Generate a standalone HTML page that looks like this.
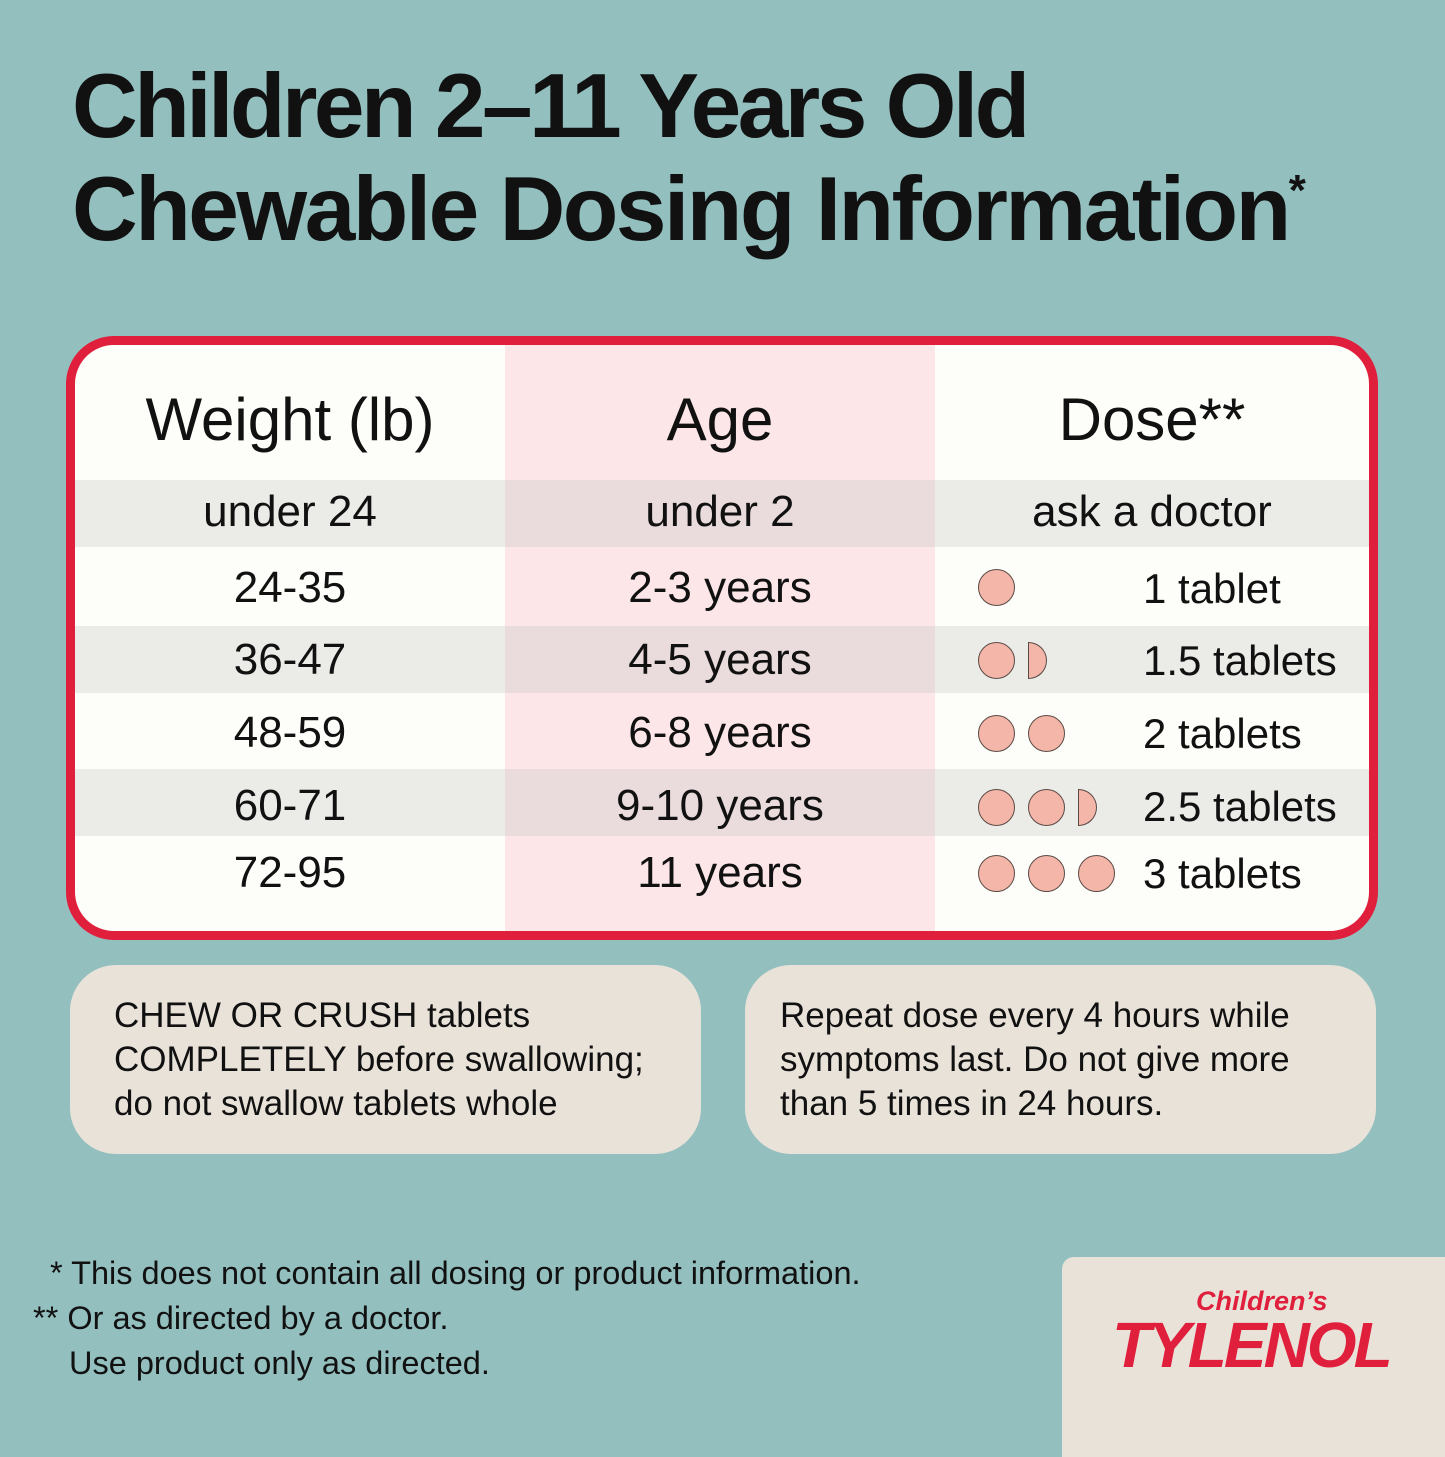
<!DOCTYPE html>
<html><head><meta charset="utf-8"><style>
*{margin:0;padding:0;box-sizing:border-box}
body{width:1445px;height:1445px;background:#93bfbf;position:relative;overflow:hidden;font-family:"Liberation Sans",sans-serif;color:#111}
.a{position:absolute;white-space:nowrap}
.t{font-size:91px;font-weight:bold;letter-spacing:-3.5px;left:72px}
.tbl{left:66px;top:336px;width:1312px;height:604px;border:9px solid #e01f3d;border-radius:48px;background:#fdfdf9;overflow:hidden}
.c{position:absolute;text-align:center;font-size:44px}
.h{font-size:60px}
.d{font-size:42px}
.box{background:#e9e2d9;border-radius:46px;top:965px;height:189px;width:631px;font-size:35px;line-height:44px;padding:29px 0 0 44px}
.f{font-size:32.5px}
.cir{position:absolute;width:37px;height:37px;border-radius:50%;background:#f4b6a8;border:1.5px solid #5a4a44}
.half{position:absolute;width:19px;height:37px;border-radius:0 19px 19px 0;background:#f4b6a8;border:1.5px solid #5a4a44}
</style></head><body>
<div class="a t" style="top:55px">Children 2–11 Years Old</div>
<div class="a t" style="top:158px;letter-spacing:-2.5px">Chewable Dosing Information<sup style="font-size:44px;vertical-align:top;position:relative;top:8px">*</sup></div>

<div class="a tbl">
 <div class="a" style="left:430px;top:0;width:430px;height:600px;background:#fce6e8"></div>
 <div class="a" style="left:0;top:135px;width:1300px;height:67px;background:rgba(200,200,200,.35)"></div>
 <div class="a" style="left:0;top:281px;width:1300px;height:67px;background:rgba(200,200,200,.35)"></div>
 <div class="a" style="left:0;top:424px;width:1300px;height:67px;background:rgba(200,200,200,.35)"></div>
 <div class="c h" style="left:0;width:430px;top:40px">Weight (lb)</div>
 <div class="c h" style="left:430px;width:430px;top:40px">Age</div>
 <div class="c h" style="left:860px;width:434px;top:40px">Dose**</div>
 <div class="c" style="left:0;width:430px;top:142px">under 24</div>
 <div class="c" style="left:430px;width:430px;top:142px">under 2</div>
 <div class="c" style="left:860px;width:434px;top:142px">ask a doctor</div>
 <div class="c" style="left:0;width:430px;top:218px">24-35</div>
 <div class="c" style="left:430px;width:430px;top:218px">2-3 years</div>
 <div class="c" style="left:0;width:430px;top:290px">36-47</div>
 <div class="c" style="left:430px;width:430px;top:290px">4-5 years</div>
 <div class="c" style="left:0;width:430px;top:363px">48-59</div>
 <div class="c" style="left:430px;width:430px;top:363px">6-8 years</div>
 <div class="c" style="left:0;width:430px;top:436px">60-71</div>
 <div class="c" style="left:430px;width:430px;top:436px">9-10 years</div>
 <div class="c" style="left:0;width:430px;top:503px">72-95</div>
 <div class="c" style="left:430px;width:430px;top:503px">11 years</div>
 <div class="c d" style="left:1068px;top:220px;text-align:left">1 tablet</div>
 <div class="c d" style="left:1068px;top:292px;text-align:left">1.5 tablets</div>
 <div class="c d" style="left:1068px;top:365px;text-align:left">2 tablets</div>
 <div class="c d" style="left:1068px;top:438px;text-align:left">2.5 tablets</div>
 <div class="c d" style="left:1068px;top:505px;text-align:left">3 tablets</div>
 <div class="cir" style="left:903px;top:224px"></div>
 <div class="cir" style="left:903px;top:297px"></div><div class="half" style="left:953px;top:297px"></div>
 <div class="cir" style="left:903px;top:370px"></div><div class="cir" style="left:953px;top:370px"></div>
 <div class="cir" style="left:903px;top:444px"></div><div class="cir" style="left:953px;top:444px"></div><div class="half" style="left:1003px;top:444px"></div>
 <div class="cir" style="left:903px;top:510px"></div><div class="cir" style="left:953px;top:510px"></div><div class="cir" style="left:1003px;top:510px"></div>
</div>

<div class="a box" style="left:70px">CHEW OR CRUSH tablets<br>COMPLETELY before swallowing;<br>do not swallow tablets whole</div>
<div class="a box" style="left:745px;padding-left:35px">Repeat dose every 4 hours while<br>symptoms last. Do not give more<br>than 5 times in 24 hours.</div>

<div class="a f" style="left:50px;top:1255px">* This does not contain all dosing or product information.</div>
<div class="a f" style="left:33px;top:1300px">** Or as directed by a doctor.</div>
<div class="a f" style="left:69px;top:1345px">Use product only as directed.</div>

<div class="a" style="left:1062px;top:1257px;width:400px;height:200px;background:#e9e2d9;border-radius:12px 0 0 0"></div>
<div class="a" style="left:1196px;top:1286px;font-size:27px;font-weight:bold;font-style:italic;color:#e01f3d">Children’s</div>
<div class="a" style="left:1112px;top:1308px;font-size:64px;font-weight:bold;font-style:italic;color:#e01f3d;letter-spacing:-3px">TYLENOL</div>
</body></html>
